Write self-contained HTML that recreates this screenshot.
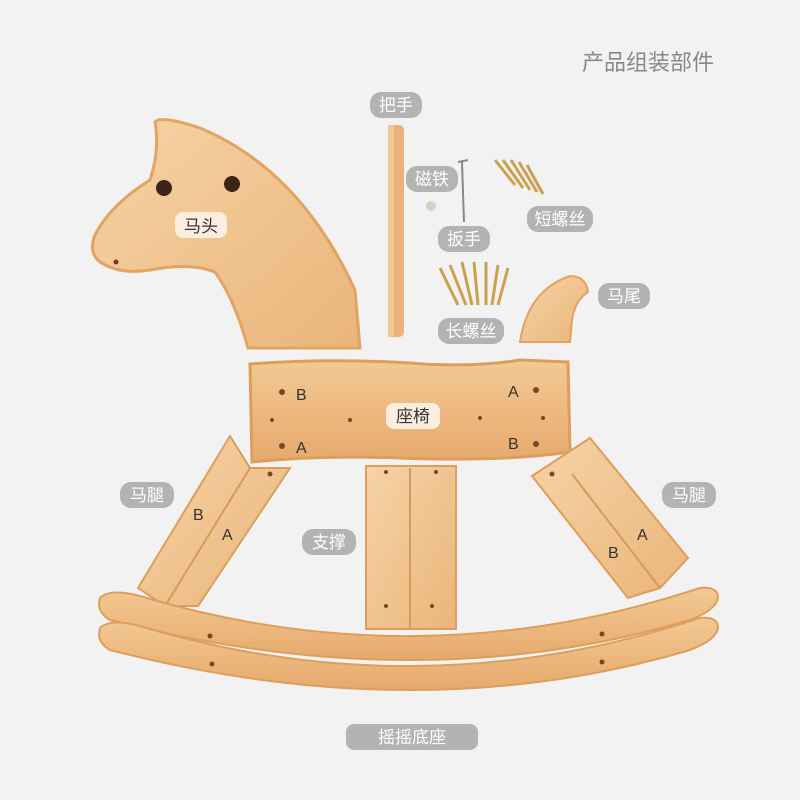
<!DOCTYPE html>
<html><head><meta charset="utf-8"><style>
body{margin:0;background:#f2f2f2;}
svg{display:block}
text{font-family:"Liberation Sans","Noto Sans CJK SC",sans-serif;}
</style></head><body>
<svg width="800" height="800" viewBox="0 0 800 800" xmlns="http://www.w3.org/2000/svg">
<defs>
<linearGradient id="w" x1="0" y1="0" x2="1" y2="1"><stop offset="0" stop-color="#f6d3a6"/><stop offset="1" stop-color="#eab57a"/></linearGradient>
<linearGradient id="w2" x1="0" y1="0" x2="0" y2="1"><stop offset="0" stop-color="#f3c994"/><stop offset="1" stop-color="#e6a96c"/></linearGradient>
</defs>
<rect width="800" height="800" fill="#f2f2f2"/>
<text x="648" y="70" font-size="22" fill="#888" text-anchor="middle">产品组装部件</text>

<!-- horse head -->
<path d="M158,120 Q170,118 200,128 Q300,170 355,290 L360,348 L248,348 Q235,300 215,272 Q190,262 150,270 Q120,275 100,262 Q88,252 95,235 Q110,205 150,180 Q160,150 155,122 Z" fill="url(#w)" stroke="#e2a461" stroke-width="3"/>
<circle cx="164" cy="188" r="8" fill="#3a2418"/><circle cx="232" cy="184" r="8" fill="#3a2418"/>
<circle cx="116" cy="262" r="2.5" fill="#6b3d20"/>
<rect x="175" y="212" width="52" height="26" rx="8" fill="#fbeee0"/>
<text x="201" y="232" font-size="17" fill="#333" text-anchor="middle">马头</text>

<!-- handle -->
<rect x="370" y="92" width="52" height="26" rx="11" fill="#b3b3b3"/>
<text x="396" y="111" font-size="17" fill="#fff" text-anchor="middle">把手</text>
<rect x="388" y="125" width="16" height="212" rx="5" fill="#eab27a"/>
<rect x="388" y="125" width="6" height="212" fill="#f2c795"/>

<!-- magnet / wrench -->
<rect x="406" y="166" width="52" height="26" rx="11" fill="#b3b3b3"/>
<text x="432" y="185" font-size="17" fill="#fff" text-anchor="middle">磁铁</text>
<circle cx="431" cy="206" r="5" fill="#d8d0c0"/>
<path d="M458,162 L468,160 M462,162 L464,222" stroke="#888" stroke-width="2" fill="none"/>
<rect x="438" y="226" width="52" height="26" rx="11" fill="#b3b3b3"/>
<text x="464" y="245" font-size="17" fill="#fff" text-anchor="middle">扳手</text>

<!-- short screws -->
<g stroke="#c9a250" stroke-width="3">
<line x1="495" y1="160" x2="515" y2="185"/><line x1="503" y1="160" x2="523" y2="188"/><line x1="511" y1="160" x2="530" y2="190"/><line x1="519" y1="162" x2="537" y2="192"/><line x1="527" y1="165" x2="543" y2="194"/>
</g>
<rect x="527" y="206" width="66" height="26" rx="11" fill="#b3b3b3"/>
<text x="560" y="225" font-size="17" fill="#fff" text-anchor="middle">短螺丝</text>

<!-- long screws -->
<g stroke="#c9a250" stroke-width="3">
<line x1="440" y1="268" x2="458" y2="305"/><line x1="450" y1="265" x2="466" y2="305"/><line x1="462" y1="262" x2="472" y2="305"/><line x1="474" y1="262" x2="478" y2="305"/><line x1="486" y1="262" x2="486" y2="305"/><line x1="498" y1="265" x2="492" y2="305"/><line x1="508" y1="268" x2="498" y2="305"/>
</g>
<rect x="438" y="318" width="66" height="26" rx="11" fill="#b3b3b3"/>
<text x="471" y="337" font-size="17" fill="#fff" text-anchor="middle">长螺丝</text>

<!-- tail -->
<path d="M520,342 Q528,290 570,276 Q586,276 588,292 Q575,300 572,320 L570,342 Z" fill="url(#w)" stroke="#e2a461" stroke-width="2"/>
<rect x="598" y="283" width="52" height="26" rx="11" fill="#b3b3b3"/>
<text x="624" y="302" font-size="17" fill="#fff" text-anchor="middle">马尾</text>

<!-- seat -->
<path d="M250,364 Q330,358 410,363 Q470,368 520,360 L568,362 L570,452 Q500,462 400,458 Q320,455 252,462 Z" fill="url(#w2)" stroke="#dd9e5c" stroke-width="3"/>
<g fill="#7a4526"><circle cx="282" cy="392" r="3"/><circle cx="282" cy="446" r="3"/><circle cx="272" cy="420" r="2"/><circle cx="350" cy="420" r="2"/><circle cx="536" cy="390" r="3"/><circle cx="536" cy="444" r="3"/><circle cx="543" cy="418" r="2"/><circle cx="480" cy="418" r="2"/></g>
<g font-size="16" fill="#333"><text x="296" y="400">B</text><text x="296" y="453">A</text><text x="508" y="397">A</text><text x="508" y="449">B</text></g>
<rect x="386" y="403" width="54" height="26" rx="8" fill="#fbeee0"/>
<text x="413" y="422" font-size="17" fill="#333" text-anchor="middle">座椅</text>

<!-- left leg -->
<path d="M230,436 L250,468 L290,468 L198,606 L165,606 L138,588 Z" fill="url(#w)" stroke="#dd9e5c" stroke-width="2"/>
<path d="M250,468 L165,606" stroke="#d89a58" stroke-width="2"/>
<circle cx="270" cy="474" r="2.5" fill="#7a4526"/>
<g font-size="16" fill="#333"><text x="193" y="520">B</text><text x="222" y="540">A</text></g>
<rect x="120" y="482" width="54" height="26" rx="11" fill="#b3b3b3"/>
<text x="147" y="501" font-size="17" fill="#fff" text-anchor="middle">马腿</text>

<!-- support -->
<rect x="366" y="466" width="90" height="163" fill="url(#w)" stroke="#dd9e5c" stroke-width="2"/>
<line x1="410" y1="468" x2="410" y2="629" stroke="#d89a58" stroke-width="2"/>
<g fill="#7a4526"><circle cx="386" cy="472" r="2"/><circle cx="436" cy="472" r="2"/><circle cx="386" cy="606" r="2"/><circle cx="432" cy="606" r="2"/></g>
<rect x="302" y="529" width="54" height="26" rx="11" fill="#b3b3b3"/>
<text x="329" y="548" font-size="17" fill="#fff" text-anchor="middle">支撑</text>

<!-- right leg -->
<path d="M590,438 L532,476 L628,598 L660,588 L688,558 Z" fill="url(#w)" stroke="#dd9e5c" stroke-width="2"/>
<path d="M572,474 L660,588" stroke="#d89a58" stroke-width="2"/>
<circle cx="552" cy="474" r="2.5" fill="#7a4526"/>
<g font-size="16" fill="#333"><text x="608" y="558">B</text><text x="637" y="540">A</text></g>
<rect x="662" y="482" width="54" height="26" rx="11" fill="#b3b3b3"/>
<text x="689" y="501" font-size="17" fill="#fff" text-anchor="middle">马腿</text>

<!-- rockers -->
<path d="M100,598 Q110,588 140,596 Q420,680 700,588 Q718,586 718,598 Q716,610 690,620 Q420,700 110,620 Q96,612 100,598 Z" fill="url(#w2)" stroke="#dd9e5c" stroke-width="2"/>
<path d="M100,628 Q110,618 140,626 Q420,710 700,618 Q718,616 718,628 Q716,640 690,650 Q420,730 110,650 Q96,642 100,628 Z" fill="url(#w2)" stroke="#dd9e5c" stroke-width="2"/>
<g fill="#7a4526"><circle cx="210" cy="636" r="2.5"/><circle cx="212" cy="664" r="2.5"/><circle cx="602" cy="634" r="2.5"/><circle cx="602" cy="662" r="2.5"/></g>
<rect x="346" y="724" width="132" height="26" rx="8" fill="#b3b3b3"/>
<text x="412" y="743" font-size="17" fill="#fff" text-anchor="middle">摇摇底座</text>
</svg>
</body></html>
